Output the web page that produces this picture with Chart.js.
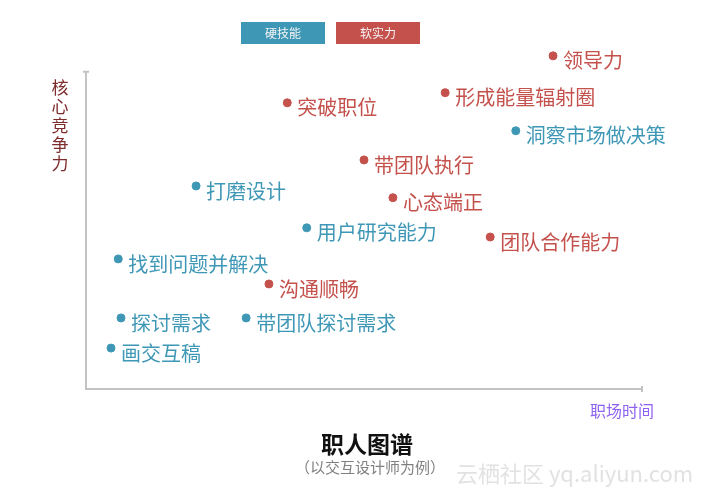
<!DOCTYPE html>
<html>
<head>
<meta charset="utf-8">
<script src="https://cdn.jsdelivr.net/npm/chart.js@4.4.0/dist/chart.umd.min.js"></script>
<style>
    html, body { margin: 0; padding: 0; background: #fff; }
    #wrap { width: 710px; height: 498px; position: relative; }
</style>
</head>
<body>
<div id="wrap"><canvas id="careerChart"></canvas></div>
<script>
// 硬技能
const hardLabels = ['打磨设计', '用户研究能力', '找到问题并解决', '探讨需求', '带团队探讨需求', '画交互稿', '洞察市场做决策'];
const hardX = [1.98, 3.97, 0.58, 0.63, 2.88, 0.45, 7.73];
const hardY = [6.40, 5.08, 4.10, 2.24, 2.24, 1.29, 8.14];

// 软实力
const softLabels = ['领导力', '形成能量辐射圈', '突破职位', '带团队执行', '心态端正', '团队合作能力', '沟通顺畅'];
const softX = [8.40, 6.46, 3.62, 5.00, 5.52, 7.27, 3.29];
const softY = [10.50, 9.34, 9.02, 7.22, 6.03, 4.79, 3.31];

const seriesNames = ['硬技能', '软实力'];
const BLUE = '#3f97b6';
const RED = '#c4514c';
const FONT = '"Noto Sans CJK SC", "Noto Sans", sans-serif';

const toPoints = (xs, ys) => xs.map((x, i) => ({ x: x, y: ys[i] }));

// labels next to dots, axes, legend boxes and titles
const decor = {
    id: 'decor',
    afterDatasetsDraw(chart) {
        const { ctx, scales } = chart;
        const x = scales.x, y = scales.y;
        ctx.save();

        // axes
        const x0 = x.getPixelForValue(0), y0 = y.getPixelForValue(0);
        const yTop = y.getPixelForValue(10), xEnd = x.getPixelForValue(10);
        ctx.strokeStyle = '#c3c3c3';
        ctx.lineWidth = 2;
        ctx.beginPath();
        ctx.moveTo(x0, yTop); ctx.lineTo(x0, y0); ctx.lineTo(xEnd, y0);
        ctx.moveTo(x0 - 3, yTop); ctx.lineTo(x0 + 3, yTop);
        ctx.moveTo(xEnd, y0 - 3); ctx.lineTo(xEnd, y0 + 3);
        ctx.stroke();

        // point labels
        ctx.font = '20px ' + FONT;
        ctx.textBaseline = 'middle';
        ctx.textAlign = 'left';
        chart.data.datasets.forEach((ds, di) => {
            const meta = chart.getDatasetMeta(di);
            ctx.fillStyle = ds.backgroundColor;
            meta.data.forEach((pt, i) => {
                ctx.fillText(ds.names[i], pt.x + 10, pt.y + 5);
            });
        });

        // legend boxes
        const boxes = [[241, BLUE], [336, RED]];
        ctx.font = '12px ' + FONT;
        ctx.textAlign = 'center';
        boxes.forEach(([bx, col], i) => {
            ctx.fillStyle = col;
            ctx.fillRect(bx, 22, 84, 22);
            ctx.fillStyle = '#f4f4f4';
            ctx.fillText(seriesNames[i], bx + 42, 33);
        });

        // y title, stacked
        ctx.font = '17px ' + FONT;
        ctx.fillStyle = '#7b2b2b';
        '核心竞争力'.split('').forEach((ch, i) => {
            ctx.fillText(ch, 60, 88 + i * 19);
        });

        // x title
        ctx.fillStyle = '#8d62f0';
        ctx.font = '16px ' + FONT;
        ctx.fillText('职场时间', 622, 411);

        // chart title
        ctx.fillStyle = '#111';
        ctx.font = 'bold 23px ' + FONT;
        ctx.fillText('职人图谱', 367, 444);
        ctx.fillStyle = '#808080';
        ctx.font = '15px ' + FONT;
        ctx.fillText('（以交互设计师为例）', 370, 467);

        // watermark
        ctx.fillStyle = '#e2e2e2';
        ctx.font = '22px ' + FONT;
        ctx.textAlign = 'left';
        ctx.fillText('云栖社区 yq.aliyun.com', 456, 474);

        ctx.restore();
    }
};

new Chart(document.getElementById('careerChart'), {
    type: 'scatter',
    data: {
        datasets: [
            {
                label: seriesNames[0],
                names: hardLabels,
                data: toPoints(hardX, hardY),
                backgroundColor: BLUE,
                borderColor: BLUE,
                pointRadius: 4,
                pointHoverRadius: 4
            },
            {
                label: seriesNames[1],
                names: softLabels,
                data: toPoints(softX, softY),
                backgroundColor: RED,
                borderColor: RED,
                pointRadius: 4,
                pointHoverRadius: 4
            }
        ]
    },
    options: {
        responsive: true,
        maintainAspectRatio: false,
        animation: false,
        layout: { padding: { left: 86, right: 68, top: 40, bottom: 109 } },
        plugins: {
            legend: { display: false },
            tooltip: { enabled: false }
        },
        scales: {
            x: { type: 'linear', min: 0, max: 10, display: false },
            y: { type: 'linear', min: 0, max: 11, display: false }
        }
    },
    plugins: [decor]
});
</script>
</body>
</html>
